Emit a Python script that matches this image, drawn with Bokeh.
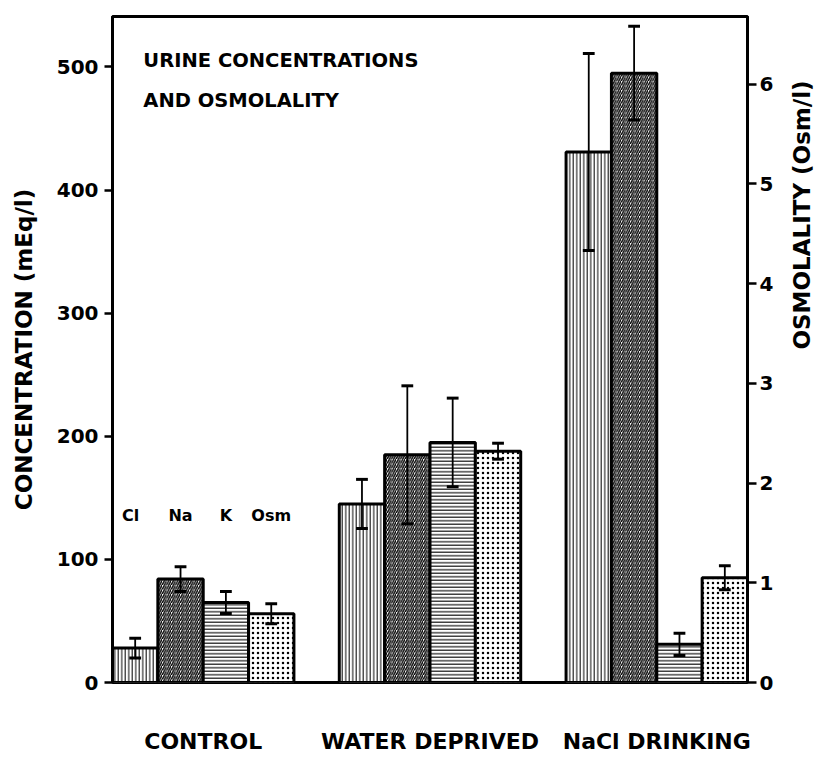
from bokeh.plotting import figure
from bokeh.models import (Range1d, LinearAxis, FixedTicker, ColumnDataSource)
from bokeh.core.properties import value
from bokeh.embed import file_html
from bokeh.resources import INLINE
from math import pi

# ---------------- data ----------------
groups = ["CONTROL", "WATER DEPRIVED", "NaCl DRINKING"]
ions = ["Cl", "Na", "K", "Osm"]

cl_vals = [28, 145, 431]      # mEq/l
cl_err = [8, 20, 80]
na_vals = [84, 185, 495]      # mEq/l
na_err = [10, 56, 38]
k_vals = [65, 195, 31]        # mEq/l
k_err = [9, 36, 9]
osm_vals = [0.69, 2.32, 1.05]  # Osm/l
osm_err = [0.10, 0.08, 0.12]

conc_ticks = [0, 100, 200, 300, 400, 500]
osm_ticks = [0, 1, 2, 3, 4, 5, 6]

title_lines = ["URINE CONCENTRATIONS", "AND OSMOLALITY"]

# ---------------- layout ----------------
FONT = value("DejaVu Sans")
group_start = [0, 5, 10]
bar_w = 1.0

p = figure(width=831, height=756, output_backend="svg", toolbar_location=None,
           x_range=Range1d(0, 14), y_range=Range1d(0, 541),
           min_border_left=112, min_border_right=84,
           min_border_top=16, min_border_bottom=74)
p.extra_y_ranges = {"osm": Range1d(0, 6.68)}
p.grid.visible = False
p.xaxis.visible = False
p.yaxis.visible = False
p.outline_line_color = "black"
p.outline_line_width = 3
p.background_fill_color = "white"
p.border_fill_color = "white"


def style_axis(ax, size="20px"):
    ax.axis_line_color = "black"
    ax.axis_line_width = 3
    ax.major_tick_line_width = 2.5
    ax.major_tick_in = 0
    ax.major_tick_out = 8
    ax.minor_tick_line_color = None
    ax.major_label_text_font = "DejaVu Sans"
    ax.major_label_text_font_style = "bold"
    ax.major_label_text_font_size = size
    ax.major_label_text_color = "black"
    ax.axis_label_text_font = "DejaVu Sans"
    ax.axis_label_text_font_style = "bold"
    ax.axis_label_text_font_size = "23px"
    ax.axis_label_text_color = "black"


left = LinearAxis(ticker=FixedTicker(ticks=conc_ticks))
style_axis(left)
left.major_label_standoff = 6
left.axis_label = "CONCENTRATION (mEq/l)"
left.axis_label_standoff = 17
p.add_layout(left, "left")

right = LinearAxis(y_range_name="osm", ticker=FixedTicker(ticks=osm_ticks))
style_axis(right)
right.major_tick_out = 9
right.major_label_standoff = 3
right.axis_label = "OSMOLALITY (Osm/l)"
right.axis_label_standoff = 26
if hasattr(right, "axis_label_orientation"):
    right.axis_label_orientation = pi / 2
p.add_layout(right, "right")

bottom = LinearAxis(ticker=FixedTicker(ticks=[g + 2 for g in group_start]),
                    major_label_overrides={g + 2: name for g, name in zip(group_start, groups)})
bottom.axis_line_color = None
bottom.major_tick_line_color = None
bottom.major_tick_in = 0
bottom.major_tick_out = 0
bottom.minor_tick_line_color = None
bottom.major_label_text_font = "DejaVu Sans"
bottom.major_label_text_font_style = "bold"
bottom.major_label_text_font_size = "22px"
bottom.major_label_text_color = "black"
bottom.major_label_standoff = 46
p.add_layout(bottom, "below")

series = [
    (cl_vals, cl_err, "default", dict(hatch_pattern="vertical_line", hatch_scale=3.5, hatch_weight=1.0)),
    (na_vals, na_err, "default", dict(hatch_pattern="right_diagonal_line", hatch_scale=4.5, hatch_weight=1.4)),
    (k_vals, k_err, "default", dict(hatch_pattern="horizontal_line", hatch_scale=3.5, hatch_weight=1.1)),
    (osm_vals, osm_err, "osm", dict(hatch_pattern="dot", hatch_scale=5, hatch_weight=1.0)),
]

cap = 0.13
for i, (vals, errs, rng, hatch) in enumerate(series):
    xs = [g + i + 0.5 for g in group_start]
    src = ColumnDataSource(dict(
        x=xs, top=vals,
        lo=[v - e for v, e in zip(vals, errs)],
        hi=[v + e for v, e in zip(vals, errs)],
        xl=[x - cap for x in xs], xr=[x + cap for x in xs],
    ))
    p.vbar(x="x", top="top", bottom=0, width=bar_w, source=src, y_range_name=rng,
           fill_color="white", line_color="black", line_width=3,
           hatch_color="black", **hatch)
    p.segment(x0="x", y0="lo", x1="x", y1="hi", source=src, y_range_name=rng,
              line_color="black", line_width=1.8)
    p.segment(x0="xl", y0="hi", x1="xr", y1="hi", source=src, y_range_name=rng,
              line_color="black", line_width=3)
    p.segment(x0="xl", y0="lo", x1="xr", y1="lo", source=src, y_range_name=rng,
              line_color="black", line_width=3)

# ion labels above control bars
p.text(x=[0.4, 1.5, 2.5, 3.5], y=[136] * 4, text=ions, text_font=FONT,
       text_font_style="bold", text_font_size="16px", text_align="center",
       text_baseline="middle", text_color="black")

# title
p.text(x=[0.68, 0.68], y=[505, 473], text=title_lines, text_font=FONT,
       text_font_style="bold", text_font_size="19.5px", text_align="left",
       text_baseline="middle", text_color="black")

open("out.html", "w").write(file_html(p, INLINE))
